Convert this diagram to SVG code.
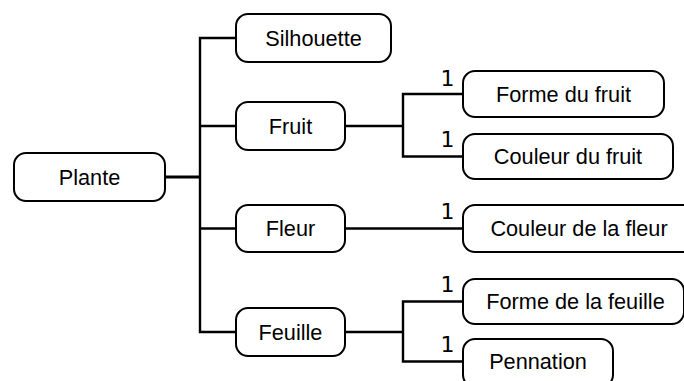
<svg xmlns="http://www.w3.org/2000/svg" width="684" height="381" viewBox="0 0 684 381">
<style>
.box{fill:#fff;stroke:#000;stroke-width:2}
.lbl{font-family:"Liberation Sans",Arial,sans-serif;font-size:21.7px;fill:#000;text-anchor:middle}
.num{font-family:"DejaVu Sans",sans-serif;font-size:22px;fill:#000}
.ln{fill:none;stroke:#000;stroke-width:2.4}
</style>
<rect width="684" height="381" fill="#fff"/>
<g id="connectors">
<path class="ln" d="M165 177 H200" style="stroke-width:3.2"/>
<path class="ln" d="M236 38 H200 V332 H236 M200 126 H236 M200 228.5 H236"/>
<path class="ln" d="M345 126 H403 M463 94 H403 V156.5 H463"/>
<path class="ln" d="M345 228.5 H463"/>
<path class="ln" d="M345 332 H403 M463 301.5 H403 V361.5 H463"/>
<text class="num" x="440.5" y="86">1</text>
<text class="num" x="440.5" y="147">1</text>
<text class="num" x="440.5" y="219">1</text>
<text class="num" x="440.5" y="292">1</text>
<text class="num" x="440.5" y="352">1</text>
</g>
<g id="plante"><rect class="box" x="14" y="153" width="151" height="48" rx="12"/><text class="lbl" x="89.5" y="184.8">Plante</text></g>
<g id="silhouette"><rect class="box" x="236" y="14" width="155" height="48" rx="12"/><text class="lbl" x="313.5" y="45.8">Silhouette</text></g>
<g id="fruit"><rect class="box" x="236" y="102" width="109" height="48" rx="12"/><text class="lbl" x="290.5" y="133.8">Fruit</text></g>
<g id="fleur"><rect class="box" x="236" y="205" width="109" height="47" rx="12"/><text class="lbl" x="290.5" y="236.3">Fleur</text></g>
<g id="feuille"><rect class="box" x="236" y="308" width="109" height="48" rx="12"/><text class="lbl" x="290.5" y="339.8">Feuille</text></g>
<g id="forme-fruit"><rect class="box" x="463" y="71" width="201" height="46" rx="12"/><text class="lbl" x="563.5" y="101.8">Forme du fruit</text></g>
<g id="couleur-fruit"><rect class="box" x="463" y="134" width="210" height="45" rx="12"/><text class="lbl" x="568" y="164.3">Couleur du fruit</text></g>
<g id="couleur-fleur"><rect class="box" x="463" y="205" width="232" height="47" rx="12"/><text class="lbl" x="579" y="236.3">Couleur de la fleur</text></g>
<g id="forme-feuille"><rect class="box" x="463" y="279" width="221" height="45" rx="12"/><text class="lbl" x="575.5" y="309.3">Forme de la feuille</text></g>
<g id="pennation"><rect class="box" x="463" y="339" width="150" height="48" rx="12"/><text class="lbl" x="538" y="369.3">Pennation</text></g>
</svg>
